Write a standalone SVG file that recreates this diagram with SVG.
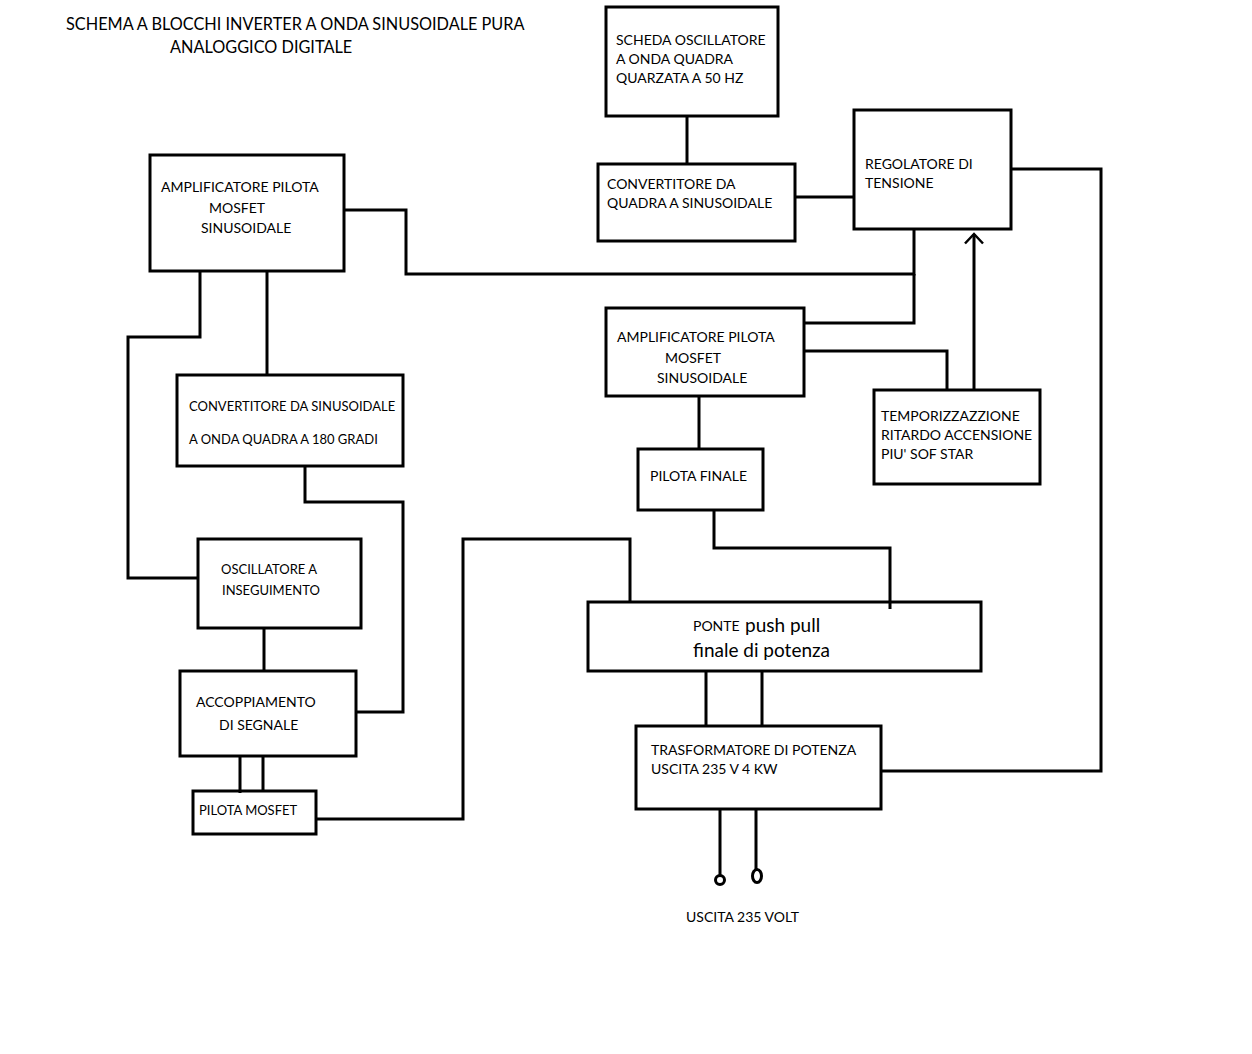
<svg xmlns="http://www.w3.org/2000/svg" width="1252" height="1054" viewBox="0 0 1252 1054">
<style>
.b{fill:#fff;stroke:#000;stroke-width:3}
.c{fill:none;stroke:#000;stroke-width:3}
text{font-family:Lato,"Open Sans","Liberation Sans",sans-serif;font-size:14px;fill:#000}
.s{font-size:13px}
.t{font-size:16.3px}
.p{font-size:19px}
</style>
<defs>
<marker id="ah" markerWidth="14" markerHeight="22" refX="11" refY="11" orient="auto" markerUnits="userSpaceOnUse" viewBox="0 0 14 22">
<path d="M1.5,2 L11,11 L1.5,20" fill="none" stroke="#000" stroke-width="2.5"/>
</marker>
</defs>
<rect width="1252" height="1054" fill="#fff"/>
<g id="title">
<text class="t" x="66" y="30">SCHEMA A BLOCCHI INVERTER A ONDA SINUSOIDALE PURA</text>
<text class="t" x="170" y="53">ANALOGGICO DIGITALE</text>
</g>
<g id="scheda"><rect class="b" x="606" y="7" width="172" height="109"/>
<text x="616" y="45">SCHEDA OSCILLATORE</text><text x="616" y="64">A ONDA QUADRA</text><text x="616" y="83">QUARZATA A 50 HZ</text></g>
<g id="conv-quadra"><rect class="b" x="598" y="164" width="197" height="77"/>
<text x="607" y="189">CONVERTITORE DA</text><text x="607" y="208">QUADRA A SINUSOIDALE</text></g>
<g id="regolatore"><rect class="b" x="854" y="110" width="157" height="119"/>
<text x="865" y="169">REGOLATORE DI</text><text x="865" y="188">TENSIONE</text></g>
<g id="amp-left"><rect class="b" x="150" y="155" width="194" height="116"/>
<text x="161" y="192">AMPLIFICATORE PILOTA</text><text x="209" y="213">MOSFET</text><text x="201" y="233">SINUSOIDALE</text></g>
<g id="amp-right"><rect class="b" x="606" y="308" width="198" height="88"/>
<text x="617" y="342">AMPLIFICATORE PILOTA</text><text x="665" y="363">MOSFET</text><text x="657" y="383">SINUSOIDALE</text></g>
<g id="temporizzazione"><rect class="b" x="874" y="390" width="166" height="94"/>
<text x="881" y="421">TEMPORIZZAZZIONE</text><text x="881" y="440">RITARDO ACCENSIONE</text><text x="881" y="459">PIU' SOF STAR</text></g>
<g id="conv-sinus"><rect class="b" x="177" y="375" width="226" height="91"/>
<text class="s" x="189" y="411">CONVERTITORE DA SINUSOIDALE</text><text class="s" x="189" y="444">A ONDA QUADRA A 180 GRADI</text></g>
<g id="pilota-finale"><rect class="b" x="638" y="449" width="125" height="61"/>
<text x="650" y="481">PILOTA FINALE</text></g>
<g id="oscillatore"><rect class="b" x="198" y="539" width="163" height="89"/>
<text class="s" x="221" y="574">OSCILLATORE A</text><text class="s" x="222" y="595">INSEGUIMENTO</text></g>
<g id="ponte"><rect class="b" x="588" y="602" width="393" height="69"/>
<text x="693" y="631">PONTE</text><text class="p" x="745" y="632">push pull</text><text class="p" x="693" y="657">finale di potenza</text></g>
<g id="accoppiamento"><rect class="b" x="180" y="671" width="176" height="85"/>
<text x="196" y="707">ACCOPPIAMENTO</text><text x="219" y="730">DI SEGNALE</text></g>
<g id="trasformatore"><rect class="b" x="636" y="726" width="245" height="83"/>
<text x="651" y="755">TRASFORMATORE DI POTENZA</text><text x="651" y="774">USCITA 235 V 4 KW</text></g>
<g id="pilota-mosfet"><rect class="b" x="193" y="791" width="123" height="43"/>
<text class="s" x="199" y="815">PILOTA MOSFET</text></g>
<g id="uscita"><text x="686" y="922">USCITA 235 VOLT</text></g>
<g id="connectors">
<path class="c" d="M687,117V163"/>
<path class="c" d="M796,197H853"/>
<path class="c" d="M345,210H406V274H914V230"/>
<path class="c" d="M914,274V323H805"/>
<path class="c" d="M805,351H947V389"/>
<path class="c" d="M974,389V234" marker-end="url(#ah)"/>
<path class="c" d="M1012,169H1101V771H882"/>
<path class="c" d="M200,272V337H128V578H197"/>
<path class="c" d="M267,272V374"/>
<path class="c" d="M305,467V502H403V712H357"/>
<path class="c" d="M264,629V670"/>
<path class="c" d="M240,757V793M263,757V790"/>
<path class="c" d="M317,819H463V539H630V601"/>
<path class="c" d="M699,397V448"/>
<path class="c" d="M714,511V548H890V609"/>
<path class="c" d="M706,672V725M762,672V725"/>
<path class="c" d="M720,810V875M756,810V869"/>
<circle class="c" cx="720" cy="880" r="4.5"/>
<ellipse class="c" cx="757" cy="876" rx="4.5" ry="6.5"/>
</g>
</svg>
